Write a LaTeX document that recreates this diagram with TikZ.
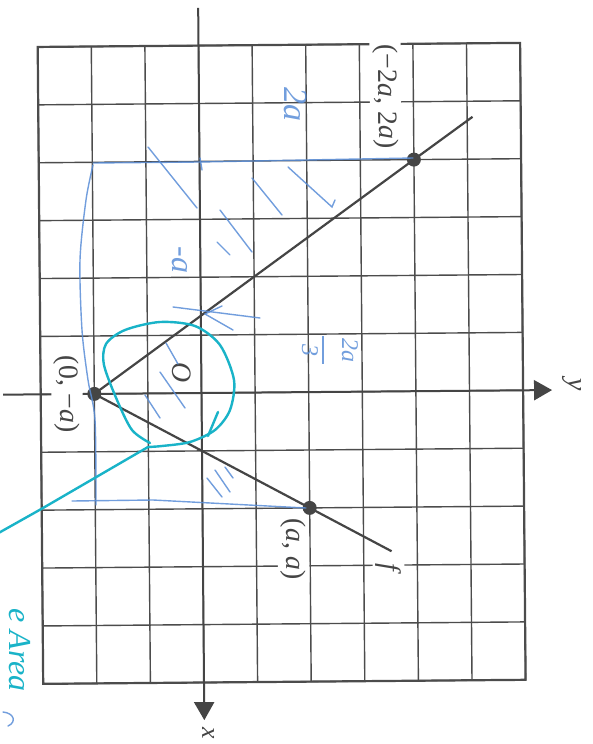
\documentclass[tikz,border=0pt]{standalone}
\usepackage{fontspec}
\setmainfont{Liberation Serif}
\usetikzlibrary{arrows.meta}
\definecolor{ink}{HTML}{454545}
\definecolor{gridc}{HTML}{4C4C4C}
\definecolor{pen}{HTML}{5A8ED8}
\definecolor{hl}{HTML}{19B3C8}
\begin{document}
\begin{tikzpicture}[
  gridln/.style={draw=gridc, line width=1.4pt},
  border/.style={draw=gridc, line width=2.2pt},
  axis/.style={draw=ink, line width=2pt, -{Triangle[length=18pt,width=20pt]}},
  fline/.style={draw=ink, line width=2.2pt},
  dot/.style={circle, fill=ink, minimum size=14pt, inner sep=0pt},
  lbl/.style={rotate=-89.5, fill=white, inner sep=3pt, text=ink, font=\fontsize{28}{30}\selectfont},
  plainlbl/.style={rotate=-89.5, inner sep=1pt, text=ink, font=\fontsize{28}{30}\selectfont},
  penln/.style={draw=pen, line width=1.4pt, opacity=0.85, line cap=round},
  hlln/.style={draw=hl, line width=2.4pt, line cap=round, line join=round},
  pentxt/.style={rotate=-90, text=pen, opacity=0.85, inner sep=0pt},
]
\useasboundingbox (0,0) rectangle (593pt,-744pt);
\fill[white] (0,0) rectangle (593pt,-744pt);

% printed diagram: (column, row) with rows counted downwards
\begin{scope}[shift={(201.5pt,-393pt)}, x={(53.6pt,0.45pt)}, y={(0.5pt,-57.9pt)}]
  \foreach \c in {-3,...,6} \draw[gridln] (\c,-6) -- (\c,5);
  \foreach \r in {-6,...,5} \draw[gridln] (-3,\r) -- (6,\r);
  \draw[border] (-3,-6) -- (6,-6) -- (6,5) -- (-3,5) -- cycle;

  \coordinate (xtop) at (0,-6.65);
  \coordinate (xtip) at (0,5.65);
  \coordinate (yleft) at (-3.70,0);
  \coordinate (ytip) at (6.54,0);
  \draw[axis] (xtop) -- (xtip);
  \draw[axis] (yleft) -- (ytip);

  \node[dot] (P) at (-2,0) {};
  \node[dot] (Q) at (2,2) {};
  \node[dot] (R) at (4,-4) {};
  \coordinate (fup) at (5.1,-4.73);
  \coordinate (flow) at (3.52,2.76);
  \draw[fline] (fup) -- (R.center) -- (P.center) -- (Q.center) -- (flow);

  \node[lbl] (lR) at (3.48,-5.09) {(−2\textit{a}, 2\textit{a})};
  \node[lbl] (lP) at (-2.51,0) {(0, −\textit{a})};
  \node[lbl] (lQ) at (1.69,2.71) {(\textit{a}, \textit{a})};
  \node[lbl] (lf) at (3.46,3.06) {\textit{f}};
  \node[plainlbl] (lO) at (-0.36,-0.36) {\textit{O}};
  \node[plainlbl] (ly) at (6.91,-0.09) {\textit{y}};
  \node[plainlbl, font=\fontsize{26}{28}\selectfont] (lx) at (0.07,5.88) {\textit{x}};
\end{scope}

% handwritten annotations, in image pixel coordinates
\begin{scope}[x=1pt, y=-1pt]
  \draw[penln] (93,163) -- (199,162) -- (413,158);
  \draw[penln] (200,158) -- (202,170);
  \draw[penln] plot[smooth] coordinates {(93,165) (86,200) (80,260) (82,330) (88,380) (95,420) (96,505)};
  \draw[penln] (72,501) -- (153,500) -- (306,508);
  \draw[penln] (148,147) -- (197,208);
  \draw[penln] (252,178) -- (282,215);
  \draw[penln] (288,167) -- (332,207) -- (335,200);
  \draw[penln] (220,210) -- (252,252);
  \draw[penln] (217,242) -- (230,255);
  \draw[penln] (173,307) -- (260,318);
  \draw[penln] (205,314) -- (233,330);
  \draw[penln] (205,314) -- (222,306);
  \draw[penln] (166,343) -- (178,364);
  \draw[penln] (160,372) -- (185,408);
  \draw[penln] (145,395) -- (160,418);
  \draw[penln] (207,478) -- (222,497);
  \draw[penln] (215,470) -- (230,492);
  \draw[penln] (225,467) -- (233,478);
  \draw[penln] (3,712) .. controls (14,713) and (17,722) .. (8,726);
  \node[pentxt, font=\itshape\fontsize{34}{34}\selectfont] (t2a) at (296,104) {2a};
  \node[pentxt, font=\itshape\fontsize{32}{32}\selectfont] (tma) at (180,260) {-a};
  \node[pentxt, font=\itshape\fontsize{24}{22}\selectfont, align=center] (tfr) at (330,350) {2a\\[-2pt]\rule{28pt}{1.4pt}\\[-2pt]3};

  \draw[hlln] plot[smooth] coordinates {(150,443) (132,430) (117,400) (104,365) (106,344) (125,330) (160,322) (195,326) (220,345) (234,380) (230,410) (215,430) (190,442) (162,446) (148,447)};
  \draw[hlln] (148,447) -- (43,508) -- (-5,535);
  \draw[hlln] (218,412) -- (208,436);
  \node[rotate=-90, text=hl, font=\itshape\fontsize{32}{32}\selectfont, inner sep=0pt] (tarea) at (20,650) {e Area};
\end{scope}
\end{tikzpicture}
\end{document}
